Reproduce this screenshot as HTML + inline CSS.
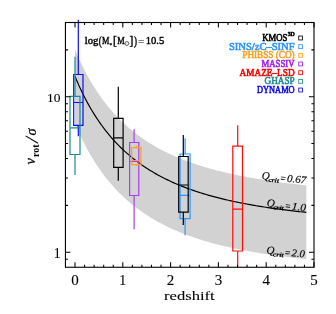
<!DOCTYPE html>
<html><head><meta charset="utf-8"><title>vrot/sigma vs redshift</title>
<style>
html,body{margin:0;padding:0;background:#fff;}
svg{display:block;will-change:transform;font-family:"Liberation Serif",serif;}
</style></head>
<body>
<svg width="336" height="314" viewBox="0 0 336 314">
<rect width="336" height="314" fill="#fff"/>
<path d="M75.00,49.34 L76.93,53.94 L78.86,58.33 L80.78,62.52 L82.71,66.52 L84.64,70.36 L86.57,74.04 L88.50,77.56 L90.42,80.95 L92.35,84.20 L94.28,87.32 L96.21,90.33 L98.14,93.22 L100.06,96.00 L101.99,98.69 L103.92,101.28 L105.85,103.77 L107.77,106.18 L109.70,108.51 L111.63,110.76 L113.56,112.93 L115.49,115.03 L117.41,117.06 L119.34,119.03 L121.27,120.93 L123.20,122.77 L125.13,124.55 L127.05,126.28 L128.98,127.95 L130.91,129.58 L132.84,131.15 L134.77,132.68 L136.69,134.16 L138.62,135.60 L140.55,136.99 L142.48,138.35 L144.41,139.66 L146.33,140.94 L148.26,142.18 L150.19,143.39 L152.12,144.56 L154.05,145.70 L155.97,146.81 L157.90,147.89 L159.83,148.94 L161.76,149.96 L163.68,150.95 L165.61,151.92 L167.54,152.87 L169.47,153.78 L171.40,154.68 L173.32,155.55 L175.25,156.40 L177.18,157.22 L179.11,158.03 L181.04,158.82 L182.96,159.58 L184.89,160.33 L186.82,161.06 L188.75,161.77 L190.68,162.46 L192.60,163.14 L194.53,163.80 L196.46,164.45 L198.39,165.08 L200.32,165.69 L202.24,166.29 L204.17,166.88 L206.10,167.46 L208.03,168.02 L209.96,168.56 L211.88,169.10 L213.81,169.62 L215.74,170.13 L217.67,170.63 L219.59,171.12 L221.52,171.60 L223.45,172.07 L225.38,172.53 L227.31,172.97 L229.23,173.41 L231.16,173.84 L233.09,174.26 L235.02,174.67 L236.95,175.07 L238.87,175.47 L240.80,175.85 L242.73,176.23 L244.66,176.60 L246.59,176.96 L248.51,177.32 L250.44,177.67 L252.37,178.01 L254.30,178.34 L256.23,178.67 L258.15,178.99 L260.08,179.31 L262.01,179.62 L263.94,179.92 L265.87,180.22 L267.79,180.51 L269.72,180.79 L271.65,181.07 L273.58,181.35 L275.51,181.62 L277.43,181.89 L279.36,182.15 L281.29,182.40 L283.22,182.65 L285.14,182.90 L287.07,183.14 L289.00,183.38 L290.93,183.61 L292.86,183.84 L294.78,184.06 L296.71,184.28 L298.64,184.50 L300.57,184.71 L302.50,184.92 L304.42,185.13 L306.35,185.33 L306.35,259.19 L304.42,258.99 L302.50,258.78 L300.57,258.57 L298.64,258.36 L296.71,258.14 L294.78,257.92 L292.86,257.69 L290.93,257.47 L289.00,257.23 L287.07,256.99 L285.14,256.75 L283.22,256.51 L281.29,256.26 L279.36,256.00 L277.43,255.74 L275.51,255.48 L273.58,255.21 L271.65,254.93 L269.72,254.65 L267.79,254.36 L265.87,254.07 L263.94,253.78 L262.01,253.47 L260.08,253.16 L258.15,252.85 L256.23,252.53 L254.30,252.20 L252.37,251.86 L250.44,251.52 L248.51,251.18 L246.59,250.82 L244.66,250.46 L242.73,250.09 L240.80,249.71 L238.87,249.32 L236.95,248.93 L235.02,248.53 L233.09,248.12 L231.16,247.70 L229.23,247.27 L227.31,246.83 L225.38,246.38 L223.45,245.92 L221.52,245.46 L219.59,244.98 L217.67,244.49 L215.74,243.99 L213.81,243.48 L211.88,242.95 L209.96,242.42 L208.03,241.87 L206.10,241.31 L204.17,240.74 L202.24,240.15 L200.32,239.55 L198.39,238.93 L196.46,238.30 L194.53,237.66 L192.60,237.00 L190.68,236.32 L188.75,235.63 L186.82,234.91 L184.89,234.19 L182.96,233.44 L181.04,232.67 L179.11,231.89 L177.18,231.08 L175.25,230.25 L173.32,229.40 L171.40,228.53 L169.47,227.64 L167.54,226.72 L165.61,225.78 L163.68,224.81 L161.76,223.82 L159.83,222.79 L157.90,221.74 L155.97,220.67 L154.05,219.56 L152.12,218.42 L150.19,217.24 L148.26,216.04 L146.33,214.79 L144.41,213.52 L142.48,212.20 L140.55,210.85 L138.62,209.45 L136.69,208.01 L134.77,206.53 L132.84,205.01 L130.91,203.43 L128.98,201.81 L127.05,200.14 L125.13,198.41 L123.20,196.62 L121.27,194.78 L119.34,192.88 L117.41,190.92 L115.49,188.89 L113.56,186.79 L111.63,184.61 L109.70,182.37 L107.77,180.04 L105.85,177.63 L103.92,175.13 L101.99,172.54 L100.06,169.86 L98.14,167.07 L96.21,164.18 L94.28,161.18 L92.35,158.05 L90.42,154.80 L88.50,151.42 L86.57,147.89 L84.64,144.22 L82.71,140.38 L80.78,136.37 L78.86,132.18 L76.93,127.79 L75.00,123.19Z" fill="#d2d2d2"/>
<path d="M75.00,76.38 L76.93,80.98 L78.86,85.37 L80.78,89.56 L82.71,93.57 L84.64,97.41 L86.57,101.08 L88.50,104.61 L90.42,107.99 L92.35,111.24 L94.28,114.37 L96.21,117.37 L98.14,120.26 L100.06,123.05 L101.99,125.73 L103.92,128.32 L105.85,130.82 L107.77,133.23 L109.70,135.56 L111.63,137.80 L113.56,139.98 L115.49,142.08 L117.41,144.11 L119.34,146.07 L121.27,147.97 L123.20,149.81 L125.13,151.60 L127.05,153.33 L128.98,155.00 L130.91,156.62 L132.84,158.20 L134.77,159.72 L136.69,161.20 L138.62,162.64 L140.55,164.04 L142.48,165.39 L144.41,166.71 L146.33,167.98 L148.26,169.23 L150.19,170.43 L152.12,171.61 L154.05,172.75 L155.97,173.86 L157.90,174.93 L159.83,175.98 L161.76,177.01 L163.68,178.00 L165.61,178.97 L167.54,179.91 L169.47,180.83 L171.40,181.72 L173.32,182.59 L175.25,183.44 L177.18,184.27 L179.11,185.08 L181.04,185.86 L182.96,186.63 L184.89,187.38 L186.82,188.10 L188.75,188.82 L190.68,189.51 L192.60,190.19 L194.53,190.85 L196.46,191.49 L198.39,192.12 L200.32,192.74 L202.24,193.34 L204.17,193.93 L206.10,194.50 L208.03,195.06 L209.96,195.61 L211.88,196.14 L213.81,196.67 L215.74,197.18 L217.67,197.68 L219.59,198.17 L221.52,198.65 L223.45,199.11 L225.38,199.57 L227.31,200.02 L229.23,200.46 L231.16,200.89 L233.09,201.31 L235.02,201.72 L236.95,202.12 L238.87,202.51 L240.80,202.90 L242.73,203.28 L244.66,203.65 L246.59,204.01 L248.51,204.37 L250.44,204.71 L252.37,205.05 L254.30,205.39 L256.23,205.72 L258.15,206.04 L260.08,206.35 L262.01,206.66 L263.94,206.97 L265.87,207.26 L267.79,207.55 L269.72,207.84 L271.65,208.12 L273.58,208.40 L275.51,208.67 L277.43,208.93 L279.36,209.19 L281.29,209.45 L283.22,209.70 L285.14,209.94 L287.07,210.18 L289.00,210.42 L290.93,210.66 L292.86,210.88 L294.78,211.11 L296.71,211.33 L298.64,211.55 L300.57,211.76 L302.50,211.97 L304.42,212.18 L306.35,212.38" fill="none" stroke="#000" stroke-width="1.2"/>
<path d="M73.70,74.50H83.00V125.30H73.70Z M73.70,102.50H83.00 M78.30,19.80V74.50 M78.30,125.30V136.30" stroke="#0a0aff" stroke-width="1.2" fill="none"/>
<path d="M70.00,96.30H80.00V154.50H70.00Z M70.00,127.80H80.00 M75.00,56.70V96.30 M75.00,154.50V175.00" stroke="#1a8e8e" stroke-width="1.2" fill="none"/>
<path d="M180.10,154.00H190.10V218.70H180.10Z M180.10,195.30H190.10 M185.10,138.30V154.00 M185.10,218.70V235.30" stroke="#2f96ff" stroke-width="1.2" fill="none"/>
<path d="M113.70,118.30H123.10V167.30H113.70Z M113.70,137.80H123.10 M118.30,86.70V118.30 M118.30,167.30V180.70" stroke="#000000" stroke-width="1.2" fill="none"/>
<path d="M178.70,156.50H188.20V212.20H178.70Z M178.70,185.00H188.20 M183.30,135.00V156.50 M183.30,212.20V225.00" stroke="#000000" stroke-width="1.2" fill="none"/>
<path d="M129.60,142.50H138.80V195.50H129.60Z M129.60,161.50H138.80 M134.10,129.20V142.50 M134.10,195.50V229.20" stroke="#a93cf5" stroke-width="1.2" fill="none"/>
<path d="M131.70,147.70H141.00V164.70H131.70Z M131.70,160.50H141.00 M136.30,145.60V147.70 M136.30,164.70V166.00" stroke="#ffa01e" stroke-width="1.2" fill="none"/>
<path d="M232.80,146.20H242.50V251.00H232.80Z M232.80,209.10H242.50 M237.70,125.30V146.20 M237.70,251.00V267.00" stroke="#ff0a0a" stroke-width="1.2" fill="none"/>
<rect x="65.44" y="22.51" width="248.56" height="244.76" fill="none" stroke="#000" stroke-width="1.1"/>
<path d="M75.00,267.27L75.00,262.27M75.00,22.51L75.00,27.51M84.56,267.27L84.56,264.67M84.56,22.51L84.56,25.11M94.12,267.27L94.12,264.67M94.12,22.51L94.12,25.11M103.68,267.27L103.68,264.67M103.68,22.51L103.68,25.11M113.24,267.27L113.24,264.67M113.24,22.51L113.24,25.11M122.80,267.27L122.80,262.27M122.80,22.51L122.80,27.51M132.36,267.27L132.36,264.67M132.36,22.51L132.36,25.11M141.92,267.27L141.92,264.67M141.92,22.51L141.92,25.11M151.48,267.27L151.48,264.67M151.48,22.51L151.48,25.11M161.04,267.27L161.04,264.67M161.04,22.51L161.04,25.11M170.60,267.27L170.60,262.27M170.60,22.51L170.60,27.51M180.16,267.27L180.16,264.67M180.16,22.51L180.16,25.11M189.72,267.27L189.72,264.67M189.72,22.51L189.72,25.11M199.28,267.27L199.28,264.67M199.28,22.51L199.28,25.11M208.84,267.27L208.84,264.67M208.84,22.51L208.84,25.11M218.40,267.27L218.40,262.27M218.40,22.51L218.40,27.51M227.96,267.27L227.96,264.67M227.96,22.51L227.96,25.11M237.52,267.27L237.52,264.67M237.52,22.51L237.52,25.11M247.08,267.27L247.08,264.67M247.08,22.51L247.08,25.11M256.64,267.27L256.64,264.67M256.64,22.51L256.64,25.11M266.20,267.27L266.20,262.27M266.20,22.51L266.20,27.51M275.76,267.27L275.76,264.67M275.76,22.51L275.76,25.11M285.32,267.27L285.32,264.67M285.32,22.51L285.32,25.11M294.88,267.27L294.88,264.67M294.88,22.51L294.88,25.11M304.44,267.27L304.44,264.67M304.44,22.51L304.44,25.11M314.00,267.27L314.00,262.27M314.00,22.51L314.00,27.51M65.44,259.32L68.04,259.32M314.00,259.32L311.40,259.32M65.44,252.20L70.44,252.20M314.00,252.20L309.00,252.20M65.44,205.39L68.04,205.39M314.00,205.39L311.40,205.39M65.44,178.01L68.04,178.01M314.00,178.01L311.40,178.01M65.44,158.58L68.04,158.58M314.00,158.58L311.40,158.58M65.44,143.51L68.04,143.51M314.00,143.51L311.40,143.51M65.44,131.20L68.04,131.20M314.00,131.20L311.40,131.20M65.44,120.79L68.04,120.79M314.00,120.79L311.40,120.79M65.44,111.77L68.04,111.77M314.00,111.77L311.40,111.77M65.44,103.82L68.04,103.82M314.00,103.82L311.40,103.82M65.44,96.70L70.44,96.70M314.00,96.70L309.00,96.70M65.44,49.89L68.04,49.89M314.00,49.89L311.40,49.89" stroke="#000" stroke-width="1.05" fill="none"/>
<g font-size="13.8" fill="#000" stroke="#000" stroke-width="0.1">
<text x="75.00" y="285.4" text-anchor="middle" textLength="7.5" lengthAdjust="spacingAndGlyphs">0</text>
<text x="122.80" y="285.4" text-anchor="middle">1</text>
<text x="170.60" y="285.4" text-anchor="middle" textLength="7.5" lengthAdjust="spacingAndGlyphs">2</text>
<text x="218.40" y="285.4" text-anchor="middle" textLength="7.5" lengthAdjust="spacingAndGlyphs">3</text>
<text x="266.20" y="285.4" text-anchor="middle" textLength="7.5" lengthAdjust="spacingAndGlyphs">4</text>
<text x="314.00" y="285.4" text-anchor="middle" textLength="7.5" lengthAdjust="spacingAndGlyphs">5</text>
<text x="60.5" y="101.6" font-size="13" text-anchor="end" textLength="13.4" lengthAdjust="spacingAndGlyphs">10</text>
<text x="60.7" y="257.7" text-anchor="end">1</text>
</g>
<text x="189.4" y="300.3" text-anchor="middle" font-size="13" stroke="#000" stroke-width="0.08" textLength="50.6" lengthAdjust="spacingAndGlyphs">redshift</text>
<g transform="translate(35,164.5) rotate(-90)" fill="#000">
<text x="-0.1" y="0" font-size="14.5" font-style="italic" stroke="#000" stroke-width="0.25">v</text>
<text x="7.5" y="3.6" font-size="9.5" font-weight="bold" textLength="12.6" lengthAdjust="spacingAndGlyphs">rot</text>
<path d="M21.2,3 L28.6,-9.4" stroke="#000" stroke-width="1.1" fill="none"/>
<text x="29.0" y="0.8" font-size="14.3" font-style="italic" stroke="#000" stroke-width="0.2">σ</text>
</g>
<g font-size="10" fill="#000" stroke="#000" stroke-width="0.4">
<text x="84.7" y="43.9" textLength="13.6" lengthAdjust="spacingAndGlyphs">log</text>
<text x="98.7" y="44.6" font-size="11.5" textLength="3" lengthAdjust="spacingAndGlyphs">(</text>
<text x="101.9" y="43.9" font-size="9.8" textLength="7.4" lengthAdjust="spacingAndGlyphs">M</text>
<text x="109.4" y="47.3" font-size="5.5" stroke-width="0.2">*</text>
<text x="113.1" y="44.6" font-size="11.5">[</text>
<text x="117.3" y="43.9" font-size="9.8" textLength="7.4" lengthAdjust="spacingAndGlyphs">M</text>
<circle cx="126.85" cy="43.5" r="1.9" fill="none" stroke="#000" stroke-width="0.65"/>
<circle cx="126.85" cy="43.5" r="0.3" fill="#000" stroke="none"/>
<text x="129.4" y="44.6" font-size="11.5">]</text>
<text x="133.9" y="44.6" font-size="11.5" textLength="3" lengthAdjust="spacingAndGlyphs">)</text>
<text x="138.1" y="44.5" stroke-width="0.15" font-size="10.5" textLength="6.3" lengthAdjust="spacingAndGlyphs">=</text>
<text x="145.8" y="44.2" font-size="10.3" textLength="18.5" lengthAdjust="spacingAndGlyphs">10.5</text>
</g>
<g font-size="10" stroke-width="0.6">
<text x="287.3" y="41.00" text-anchor="end" fill="#000000" stroke="#000000" textLength="25" lengthAdjust="spacingAndGlyphs">KMOS</text>
<text x="294.7" y="36.30" text-anchor="end" fill="#000000" stroke="#000000" font-size="5.5" textLength="7" lengthAdjust="spacingAndGlyphs">3D</text>
<rect x="298.75" y="36.05" width="3.8" height="3.9" fill="none" stroke="#000000" stroke-width="0.85"/>
<text x="294.6" y="49.67" text-anchor="end" fill="#2f96ff" stroke="#2f96ff" textLength="65.7" lengthAdjust="spacingAndGlyphs">SINS/zC–SINF</text>
<rect x="298.75" y="44.72" width="3.8" height="3.9" fill="none" stroke="#2f96ff" stroke-width="0.85"/>
<text x="294.6" y="58.34" text-anchor="end" fill="#ffa01e" stroke="#ffa01e" textLength="52.3" lengthAdjust="spacingAndGlyphs">PHIBSS (CO)</text>
<rect x="298.75" y="53.39" width="3.8" height="3.9" fill="none" stroke="#ffa01e" stroke-width="0.85"/>
<text x="294.6" y="67.01" text-anchor="end" fill="#a020f0" stroke="#a020f0" textLength="33.1" lengthAdjust="spacingAndGlyphs">MASSIV</text>
<rect x="298.75" y="62.06" width="3.8" height="3.9" fill="none" stroke="#a020f0" stroke-width="0.85"/>
<text x="294.6" y="75.68" text-anchor="end" fill="#ff0000" stroke="#ff0000" textLength="55.0" lengthAdjust="spacingAndGlyphs">AMAZE–LSD</text>
<rect x="298.75" y="70.73" width="3.8" height="3.9" fill="none" stroke="#ff0000" stroke-width="0.85"/>
<text x="294.6" y="84.35" text-anchor="end" fill="#1a8e8e" stroke="#1a8e8e" textLength="30.1" lengthAdjust="spacingAndGlyphs">GHASP</text>
<rect x="298.75" y="79.40" width="3.8" height="3.9" fill="none" stroke="#1a8e8e" stroke-width="0.85"/>
<text x="294.6" y="93.02" text-anchor="end" fill="#0a0ae6" stroke="#0a0ae6" textLength="37.6" lengthAdjust="spacingAndGlyphs">DYNAMO</text>
<rect x="298.75" y="88.07" width="3.8" height="3.9" fill="none" stroke="#0a0ae6" stroke-width="0.85"/>
</g>
<g font-style="italic" fill="#000" font-size="10.5" stroke="#000" stroke-width="0.15">
<g transform="translate(261.6,179.0) rotate(5)">
<text x="0" y="0" font-size="11">Q</text><text x="6.9" y="2.2" font-size="6.2" font-weight="bold" textLength="10.5" lengthAdjust="spacingAndGlyphs">crit</text><text x="18.8" y="0.9" font-style="normal" textLength="5.3" lengthAdjust="spacingAndGlyphs">=</text><text x="25.3" y="0.6" textLength="19.5" lengthAdjust="spacingAndGlyphs">0.67</text>
</g>
<g transform="translate(266.4,206.3) rotate(6)">
<text x="0" y="0" font-size="11">Q</text><text x="6.9" y="2.2" font-size="6.2" font-weight="bold" textLength="10.5" lengthAdjust="spacingAndGlyphs">crit</text><text x="18.8" y="0.9" font-style="normal" textLength="5.3" lengthAdjust="spacingAndGlyphs">=</text><text x="25.3" y="0.6" textLength="14.2" lengthAdjust="spacingAndGlyphs">1.0</text>
</g>
<g transform="translate(266.2,253.5) rotate(5)">
<text x="0" y="0" font-size="11">Q</text><text x="6.9" y="2.2" font-size="6.2" font-weight="bold" textLength="10.5" lengthAdjust="spacingAndGlyphs">crit</text><text x="18.8" y="0.9" font-style="normal" textLength="5.3" lengthAdjust="spacingAndGlyphs">=</text><text x="25.3" y="0.6" textLength="13.4" lengthAdjust="spacingAndGlyphs">2.0</text>
</g>
</g>
</svg>
</body></html>
